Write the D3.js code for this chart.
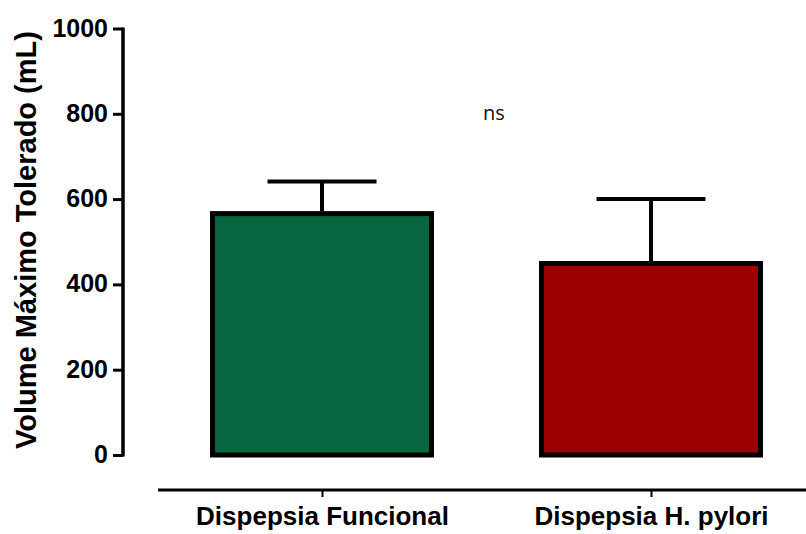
<!DOCTYPE html>
<html><head><meta charset="utf-8">
<script src="https://cdn.jsdelivr.net/npm/d3@7"></script>
<style>body{margin:0;background:#fff}svg{display:block}</style>
</head><body>
<svg id="c" width="806" height="534"></svg>
<script>
const categories = ["Dispepsia Funcional", "Dispepsia H. pylori"];
const means = [566, 449];
const errUpper = [641, 600];
const barColors = ["#076640", "#9c0000"];
const yTicks = [0, 200, 400, 600, 800, 1000];
const yTitle = "Volume Máximo Tolerado (mL)";
const annotation = "ns";

const svg = d3.select("#c");
const y = d3.scaleLinear().domain([0, 1000]).range([455, 28.5]);
const x = d3.scalePoint().domain(categories).range([322, 651]);
const barW = 219, capW = 109;

// bars
svg.selectAll("rect.bar").data(categories).join("rect")
  .attr("x", d => x(d) - barW / 2)
  .attr("y", (d, i) => y(means[i]))
  .attr("width", barW)
  .attr("height", (d, i) => y(0) - y(means[i]))
  .attr("fill", (d, i) => barColors[i])
  .attr("stroke", "#000").attr("stroke-width", 5);

// error bars
categories.forEach((c, i) => {
  svg.append("line").attr("x1", x(c)).attr("x2", x(c))
    .attr("y1", y(means[i]) - 2.5).attr("y2", y(errUpper[i]))
    .attr("stroke", "#000").attr("stroke-width", 4);
  svg.append("line").attr("x1", x(c) - capW / 2).attr("x2", x(c) + capW / 2)
    .attr("y1", y(errUpper[i])).attr("y2", y(errUpper[i]))
    .attr("stroke", "#000").attr("stroke-width", 4);
});

// y axis
const yAxis = d3.axisLeft(y).tickValues(yTicks).tickFormat(d3.format("d"))
  .tickSize(10).tickPadding(5).tickSizeOuter(0);
const gy = svg.append("g").attr("transform", "translate(123,0)").call(yAxis);
gy.select(".domain").attr("stroke", "#000").attr("stroke-width", 3.5)
  .attr("d", `M0,${y(1000) - 1}V${y(0) + 1.5}`);
gy.selectAll(".tick line").attr("stroke", "#000").attr("stroke-width", 3);
gy.selectAll(".tick text").attr("font-family", "Liberation Sans, Arial, sans-serif")
  .attr("font-weight", "bold").attr("font-size", 25).attr("fill", "#000")
  .attr("dy", "0.3em");

// x axis
const xAxis = d3.axisBottom(x).tickSize(7).tickPadding(10).tickSizeOuter(0);
const gx = svg.append("g").attr("transform", "translate(0,490)").call(xAxis);
gx.select(".domain").attr("stroke", "#000").attr("stroke-width", 3)
  .attr("d", "M158,0H806");
gx.selectAll(".tick line").attr("stroke", "#000").attr("stroke-width", 2);
gx.selectAll(".tick text").attr("font-family", "Liberation Sans, Arial, sans-serif")
  .attr("font-weight", "bold").attr("font-size", 26).attr("fill", "#000");

// y title
svg.append("text")
  .attr("transform", `translate(36,240) rotate(-90)`)
  .attr("text-anchor", "middle")
  .attr("font-family", "Liberation Sans, Arial, sans-serif")
  .attr("font-weight", "bold").attr("font-size", 29).attr("fill", "#000")
  .text(yTitle);

// annotation
svg.append("text").attr("x", 494).attr("y", 120).attr("text-anchor", "middle")
  .attr("font-family", "Open Sans, sans-serif").attr("font-size", 20).attr("fill", "#111")
  .text(annotation);
</script>
</body></html>
